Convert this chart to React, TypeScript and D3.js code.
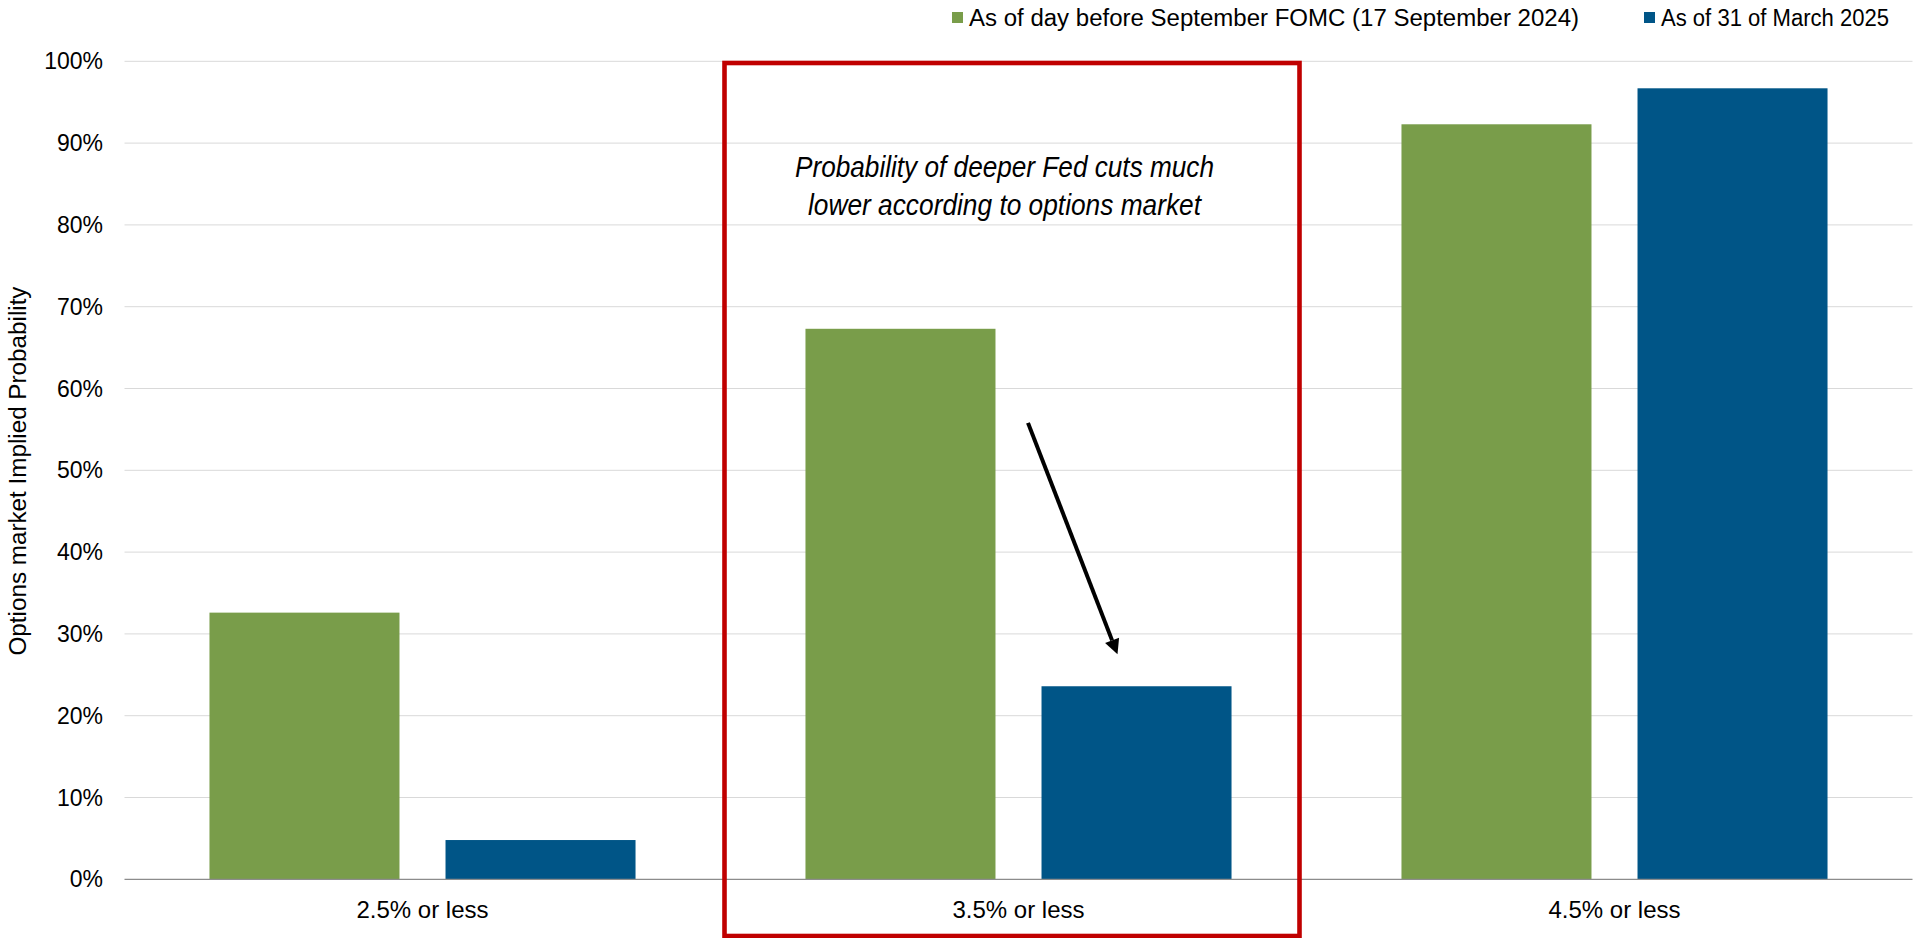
import React from "react";
import * as d3 from "d3";

// Cut-level buckets and options-implied probabilities (%)
const categories = ["2.5% or less", "3.5% or less", "4.5% or less"];
const seriesNames = [
  "As of day before September FOMC (17 September 2024)",
  "As of 31 of March 2025",
];
const sept2024 = [32.6, 67.3, 92.3];
const mar2025 = [4.8, 23.6, 96.7];
const yTicks = [0, 10, 20, 30, 40, 50, 60, 70, 80, 90, 100];
const noteLines = [
  "Probability of deeper Fed cuts much",
  "lower according to options market",
];

const W = 1928;
const H = 938;
const COLORS = ["#799D4A", "#005587"];
const FONT = "'Liberation Sans', Arial, sans-serif";

export default function App() {
  const left = 124.5;
  const right = 1912.5;
  const top = 61.3;
  const bottom = 879.3;

  const x = d3.scaleBand<string>().domain(categories).range([left, right]);
  const xs = d3
    .scaleBand<number>()
    .domain([0, 1])
    .range([0, x.bandwidth()])
    .paddingInner(0.195)
    .paddingOuter(0.36);
  const y = d3.scaleLinear().domain([0, 100]).range([bottom, top]);

  const series = [sept2024, mar2025];

  // highlight box around the middle bucket
  const mid = categories[1];
  const boxL = (x(mid) as number) + 4;
  const boxR = (x(mid) as number) + x.bandwidth() - 17;

  // arrow from the gap between the two middle bars down towards the blue bar
  const a0 = { x: (x(mid) as number) + 307.5, y: y(55.8) };
  const a1 = { x: (x(mid) as number) + 397, y: y(27.5) };
  const ang = Math.atan2(a1.y - a0.y, a1.x - a0.x);
  const headLen = 15;
  const headHalf = 7.5;
  const base = { x: a1.x - headLen * Math.cos(ang), y: a1.y - headLen * Math.sin(ang) };
  const px = -Math.sin(ang);
  const py = Math.cos(ang);
  const head = [
    [a1.x, a1.y],
    [base.x + px * headHalf, base.y + py * headHalf],
    [base.x - px * headHalf, base.y - py * headHalf],
  ];

  const noteCx = (boxL + boxR) / 2 - 7.5;
  const noteWidths = [419, 393];
  const legendWidths = [610, 228];

  return (
    <svg
      width={W}
      height={H}
      style={{ position: "absolute", left: 0, top: 0, display: "block", background: "#fff" }}
      fontFamily={FONT}
    >
      {/* gridlines */}
      {yTicks.map((t) =>
        t === 0 ? null : (
          <line key={"g" + t} x1={left} x2={right} y1={y(t)} y2={y(t)} stroke="#D9D9D9" strokeWidth={1} />
        )
      )}

      {/* bars */}
      {categories.map((c, i) =>
        series.map((s, k) => (
          <rect
            key={c + k}
            x={(x(c) as number) + (xs(k) as number)}
            y={y(s[i])}
            width={xs.bandwidth()}
            height={bottom - y(s[i])}
            fill={COLORS[k]}
          />
        ))
      )}

      {/* baseline */}
      <line x1={left} x2={right} y1={bottom} y2={bottom} stroke="#8C8C8C" strokeWidth={1.2} />

      {/* y tick labels */}
      {yTicks.map((t) => (
        <text key={"t" + t} x={103} y={y(t)} dy="0.35em" textAnchor="end" fontSize={23} fill="#000">
          {t + "%"}
        </text>
      ))}

      {/* y axis title */}
      <text
        transform={`translate(26, 471) rotate(-90)`}
        textAnchor="middle"
        fontSize={23}
        textLength={369}
        lengthAdjust="spacingAndGlyphs"
        fill="#000"
      >
        Options market Implied Probability
      </text>

      {/* category labels */}
      {categories.map((c) => (
        <text
          key={"x" + c}
          x={(x(c) as number) + x.bandwidth() / 2}
          y={918}
          textAnchor="middle"
          fontSize={24}
          fill="#000"
        >
          {c}
        </text>
      ))}

      {/* highlight box */}
      <rect
        x={boxL}
        y={63}
        width={boxR - boxL}
        height={936 - 63}
        fill="none"
        stroke="#C00000"
        strokeWidth={4.6}
      />

      {/* annotation */}
      {noteLines.map((ln, i) => (
        <text
          key={"n" + i}
          x={noteCx}
          y={177 + i * 38}
          textAnchor="middle"
          fontSize={29}
          fontStyle="italic"
          textLength={noteWidths[i]}
          lengthAdjust="spacingAndGlyphs"
          fill="#000"
        >
          {ln}
        </text>
      ))}

      {/* arrow */}
      <line x1={a0.x} y1={a0.y} x2={base.x} y2={base.y} stroke="#000" strokeWidth={4} />
      <polygon points={head.map((p) => p.join(",")).join(" ")} fill="#000" />

      {/* legend */}
      {seriesNames.map((n, k) => {
        const lx = k === 0 ? 952 : 1644;
        return (
          <g key={"l" + k}>
            <rect x={lx} y={12} width={11} height={11} fill={COLORS[k]} />
            <text
              x={lx + 17}
              y={26}
              fontSize={23}
              textLength={legendWidths[k]}
              lengthAdjust="spacingAndGlyphs"
              fill="#000"
            >
              {n}
            </text>
          </g>
        );
      })}
    </svg>
  );
}
